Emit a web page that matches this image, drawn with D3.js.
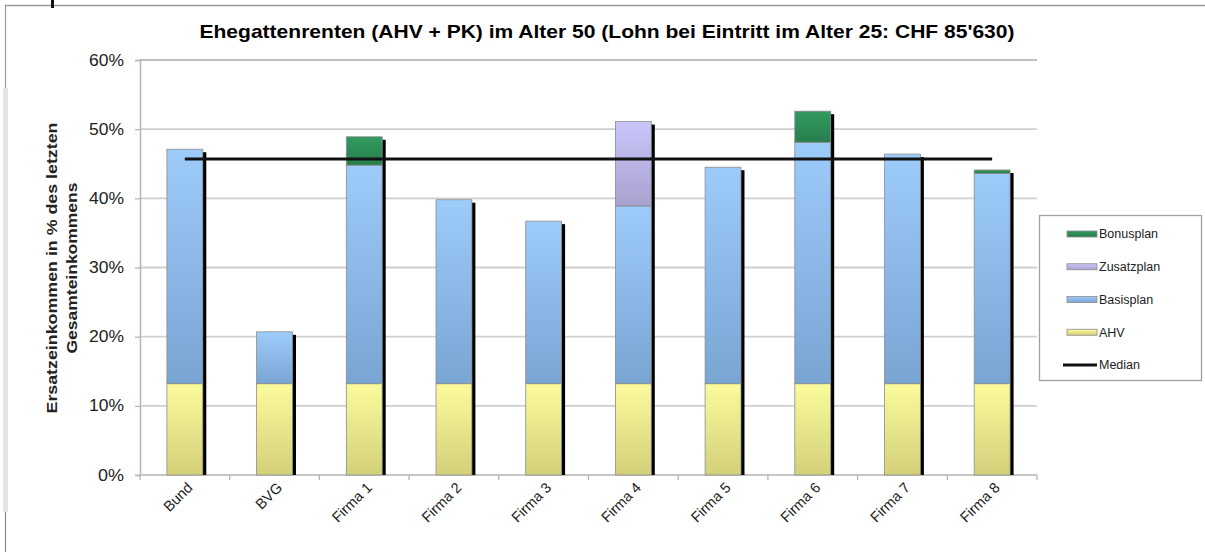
<!DOCTYPE html>
<html>
<head>
<meta charset="utf-8">
<script src="https://cdn.jsdelivr.net/npm/d3@7"></script>
<style>
  html, body { margin: 0; padding: 0; background: #fff; }
  svg { display: block; font-family: "Liberation Sans", Arial, sans-serif; }
</style>
</head>
<body>
<svg id="chart" width="1205" height="552"></svg>
<script>
// Categories and stacked components (share of last total income, in %)
const categories = ["Bund", "BVG", "Firma 1", "Firma 2", "Firma 3", "Firma 4", "Firma 5", "Firma 6", "Firma 7", "Firma 8"];
const ahv        = [13.2, 13.2, 13.2, 13.2, 13.2, 13.2, 13.2, 13.2, 13.2, 13.2];
const basisplan  = [33.9,  7.5, 31.6, 26.6, 23.5, 25.7, 31.3, 34.9, 33.2, 30.4];
const zusatzplan = [ 0,    0,    0,    0,    0,   12.2,  0,    0,    0,    0  ];
const bonusplan  = [ 0,    0,    4.1,  0,    0,    0,    0,    4.5,  0,    0.5];
const median     = 45.7;
const yTicks     = [0, 10, 20, 30, 40, 50, 60];

const title = "Ehegattenrenten (AHV + PK) im Alter 50 (Lohn bei Eintritt im Alter 25: CHF 85'630)";
const yTitle = ["Ersatzeinkommen in % des letzten", "Gesamteinkommens"];

const seriesKeys = ["AHV", "Basisplan", "Zusatzplan", "Bonusplan"];
const seriesValues = { AHV: ahv, Basisplan: basisplan, Zusatzplan: zusatzplan, Bonusplan: bonusplan };
const colors = {
  AHV:        ["#fbfb9c", "#d3d07a"],
  Basisplan:  ["#9dcbfa", "#79a5d3"],
  Zusatzplan: ["#cac6fa", "#a7a2cf"],
  Bonusplan:  ["#339a60", "#277d4d"]
};

const rows = categories.map((c, i) => {
  const r = { category: c };
  seriesKeys.forEach(k => r[k] = seriesValues[k][i]);
  return r;
});

const svg = d3.select("#chart");
const plot = { left: 140, right: 1037, top: 60, bottom: 475 };

const x = d3.scaleBand().domain(categories).range([plot.left, plot.right])
  .paddingInner(0.6).paddingOuter(0.3);
const y = d3.scaleLinear().domain([0, 60]).range([plot.bottom, plot.top]);

// gradients
const defs = svg.append("defs");
seriesKeys.forEach(k => {
  const g = defs.append("linearGradient").attr("id", "grad-" + k)
    .attr("x1", 0).attr("y1", 0).attr("x2", 0).attr("y2", 1);
  g.append("stop").attr("offset", "0%").attr("stop-color", colors[k][0]);
  g.append("stop").attr("offset", "100%").attr("stop-color", colors[k][1]);
});
defs.append("filter").attr("id", "soft").append("feGaussianBlur").attr("stdDeviation", 0.6);

// outer frame fragments
svg.append("line").attr("x1", 5).attr("x2", 1205).attr("y1", 5.5).attr("y2", 5.5)
  .attr("stroke", "#9a9a9a").attr("stroke-width", 1.5);
svg.append("line").attr("x1", 5.5).attr("x2", 5.5).attr("y1", 5).attr("y2", 88)
  .attr("stroke", "#9a9a9a").attr("stroke-width", 1.2);
svg.append("rect").attr("x", 3).attr("y", 88).attr("width", 5).attr("height", 424).attr("fill", "#e4e4e4");
svg.append("line").attr("x1", 5.5).attr("x2", 5.5).attr("y1", 512).attr("y2", 552)
  .attr("stroke", "#8a8a8a").attr("stroke-width", 1.2);
svg.append("rect").attr("x", 51).attr("y", 0).attr("width", 3).attr("height", 8).attr("fill", "#111");

// title
svg.append("text").attr("x", 607).attr("y", 38).attr("text-anchor", "middle")
  .attr("font-size", 18.5).attr("font-weight", "bold").attr("fill", "#000")
  .attr("textLength", 815).attr("lengthAdjust", "spacingAndGlyphs")
  .text(title);

// gridlines
svg.append("g").selectAll("line").data(yTicks.filter(t => t > 0)).join("line")
  .attr("x1", plot.left).attr("x2", plot.right)
  .attr("y1", d => y(d)).attr("y2", d => y(d))
  .attr("stroke", d => d === 60 ? "#a8a8a8" : "#cfcfcf")
  .attr("stroke-width", d => d === 60 ? 1.3 : 1.8);

// y axis
const yAxis = svg.append("g").attr("transform", `translate(${plot.left},0)`)
  .call(d3.axisLeft(y).tickValues(yTicks).tickFormat(d => d + "%").tickSize(5).tickPadding(11));
yAxis.select(".domain").attr("stroke", "#b5b5b5").attr("stroke-width", 1.5);
yAxis.selectAll(".tick line").attr("stroke", "#b5b5b5").attr("stroke-width", 1.3);
yAxis.selectAll(".tick text").attr("font-size", 16).attr("fill", "#222")
  .attr("font-family", "Liberation Sans, Arial, sans-serif")
  .attr("textLength", 35).attr("lengthAdjust", "spacingAndGlyphs");
yAxis.selectAll(".tick text").filter(d => d === 0).attr("textLength", 26);

// y axis title
const yt = svg.append("text").attr("transform", "translate(57,268) rotate(-90)")
  .attr("text-anchor", "middle").attr("font-size", 14).attr("font-weight", "bold").attr("fill", "#222");
yt.append("tspan").attr("x", 0).attr("dy", 0).attr("textLength", 291).attr("lengthAdjust", "spacingAndGlyphs").text(yTitle[0]);
yt.append("tspan").attr("x", 0).attr("dy", 20).attr("textLength", 171).attr("lengthAdjust", "spacingAndGlyphs").text(yTitle[1]);

// x axis line and boundary ticks
const step = x.step();
const x0 = x(categories[0]) - x.paddingOuter() * step;
const boundaries = d3.range(categories.length + 1).map(i => x0 + i * step);
svg.append("line").attr("x1", plot.left).attr("x2", plot.right)
  .attr("y1", plot.bottom).attr("y2", plot.bottom).attr("stroke", "#b5b5b5").attr("stroke-width", 1.5);
svg.append("g").selectAll("line").data(boundaries).join("line")
  .attr("x1", d => d).attr("x2", d => d).attr("y1", plot.bottom).attr("y2", plot.bottom + 5)
  .attr("stroke", "#b5b5b5").attr("stroke-width", 1.3);

// stacked bars
const stacked = d3.stack().keys(seriesKeys)(rows);
const totals = rows.map(r => d3.sum(seriesKeys, k => r[k]));

// bar shadows
svg.append("g").attr("filter", "url(#soft)").selectAll("rect").data(rows).join("rect")
  .attr("x", d => x(d.category) + x.bandwidth() - 0.5)
  .attr("y", (d, i) => y(totals[i]) + 3)
  .attr("width", 4)
  .attr("height", (d, i) => y(0) - y(totals[i]) - 3)
  .attr("fill", "#000");

const layers = svg.append("g").selectAll("g").data(stacked).join("g")
  .attr("fill", d => `url(#grad-${d.key})`);
layers.selectAll("rect").data(d => d.filter(s => s[1] - s[0] > 0)).join("rect")
  .attr("x", d => x(d.data.category))
  .attr("y", d => y(d[1]))
  .attr("width", x.bandwidth())
  .attr("height", d => y(d[0]) - y(d[1]))
  .attr("stroke", "#8c8c8c").attr("stroke-width", 0.8);

// median line
const medianLine = d3.line().x(d => x(d) + x.bandwidth() / 2).y(() => y(median));
svg.append("path").datum(categories).attr("d", medianLine)
  .attr("transform", "translate(1,1.5)").attr("stroke", "#777").attr("stroke-width", 3)
  .attr("fill", "none").attr("filter", "url(#soft)").attr("opacity", 0.6);
svg.append("path").datum(categories).attr("d", medianLine)
  .attr("stroke", "#111").attr("stroke-width", 3).attr("fill", "none");

// category labels
svg.append("g").selectAll("text").data(categories).join("text")
  .attr("transform", d => `translate(${x(d) + x.bandwidth() / 2 + 5},${plot.bottom + 10}) rotate(-45)`)
  .attr("text-anchor", "end").attr("dy", "0.35em")
  .attr("font-size", 14.5).attr("fill", "#222")
  .text(d => d);

// legend
const legend = svg.append("g");
legend.append("rect").attr("x", 1039.5).attr("y", 215.5).attr("width", 162).attr("height", 165)
  .attr("fill", "#fff").attr("stroke", "#a0a0a0").attr("stroke-width", 1.3);
const legendKeys = ["Bonusplan", "Zusatzplan", "Basisplan", "AHV"];
const legendY = d3.scalePoint().domain([...legendKeys, "Median"]).range([234, 365]);
legendKeys.forEach(k => {
  legend.append("rect").attr("x", 1067).attr("y", legendY(k) - 3).attr("width", 30).attr("height", 6)
    .attr("fill", `url(#grad-${k})`).attr("stroke", "#8c8c8c").attr("stroke-width", 0.8);
});
legend.append("line").attr("x1", 1063).attr("x2", 1097).attr("y1", legendY("Median")).attr("y2", legendY("Median"))
  .attr("stroke", "#111").attr("stroke-width", 3);
legend.selectAll("text").data([...legendKeys, "Median"]).join("text")
  .attr("x", 1099).attr("y", d => legendY(d)).attr("dy", "0.35em")
  .attr("font-size", 12.5).attr("fill", "#222")
  .text(d => d);
</script>
</body>
</html>
